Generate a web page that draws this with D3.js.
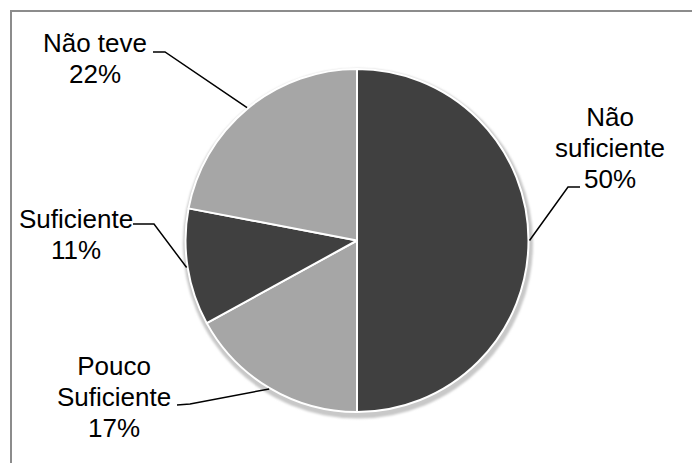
<!DOCTYPE html>
<html>
<head>
<meta charset="utf-8">
<script src="https://cdn.jsdelivr.net/npm/d3@7"></script>
<style>
  html, body { margin: 0; padding: 0; background: #fff; }
  svg { display: block; }
  text { font-family: "Liberation Sans", Arial, sans-serif; font-size: 26px; fill: #000; }
</style>
</head>
<body>
<svg id="chart" width="692" height="463"></svg>
<script>
const categories = ["Não suficiente", "Pouco Suficiente", "Suficiente", "Não teve"];
const values = [50, 17, 11, 22];
const labelLines = [["Não", "suficiente", "50%"], ["Pouco", "Suficiente", "17%"], ["Suficiente", "11%"], ["Não teve", "22%"]];
const colors = ["#404040", "#a6a6a6", "#404040", "#a6a6a6"];

const svg = d3.select("#chart");
const cx = 357, cy = 240.5, R = 171.5;

// chart border (only top/left visible in view)
svg.append("rect").attr("x", 11).attr("y", 11).attr("width", 700).attr("height", 470)
  .attr("fill", "none").attr("stroke", "#8c8c8c").attr("stroke-width", 2);

const defs = svg.append("defs");
const f = defs.append("filter").attr("id", "sh").attr("x", "-20%").attr("y", "-20%").attr("width", "140%").attr("height", "140%");
f.append("feGaussianBlur").attr("stdDeviation", 1.2);

const g = svg.append("g").attr("transform", `translate(${cx},${cy})`);

g.append("circle").attr("cx", 1).attr("cy", 3).attr("r", R + 3.5)
  .attr("fill", "#c8c8c8").attr("filter", "url(#sh)");

const pie = d3.pie().sort(null).value(d => d)(values);
const arc = d3.arc().innerRadius(0).outerRadius(R);

g.selectAll("path.slice").data(pie).enter().append("path")
  .attr("class", "slice")
  .attr("d", arc)
  .attr("fill", (d, i) => colors[i])
  .attr("stroke", "#fff").attr("stroke-width", 2).attr("stroke-linejoin", "round");

// label placement: center x, first baseline y, leader elbow points
const labelPos = [
  { x: 610, y: 126, lead: [[580, 187], [568, 187]] },
  { x: 114, y: 375, lead: [[177, 405], [190, 404]] },
  { x: 76, y: 228, lead: [[133, 224], [154, 224]] },
  { x: 95, y: 52, lead: [[153, 52], [165, 52]] }
];
const lineH = 30.8;

pie.forEach((d, i) => {
  const p = labelPos[i];
  const t = svg.append("text").attr("text-anchor", "middle");
  labelLines[i].forEach((ln, k) => {
    t.append("tspan").attr("x", p.x).attr("y", p.y + k * lineH).text(ln);
  });
  const mid = (d.startAngle + d.endAngle) / 2;
  const ex = cx + (R + 1) * Math.sin(mid), ey = cy - (R + 1) * Math.cos(mid);
  svg.append("path").attr("d", d3.line()([p.lead[0], p.lead[1], [ex, ey]]))
    .attr("fill", "none").attr("stroke", "#000").attr("stroke-width", 1.5);
});
</script>
</body>
</html>
